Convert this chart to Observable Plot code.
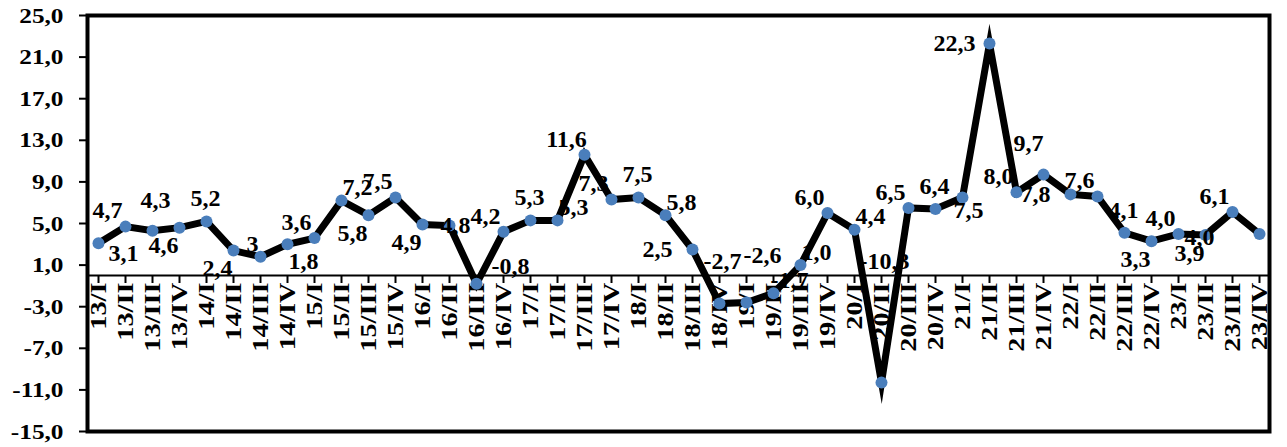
<!DOCTYPE html>
<html>
<head>
<meta charset="utf-8">
<script src="https://cdn.jsdelivr.net/npm/d3@7"></script>
<script src="https://cdn.jsdelivr.net/npm/@observablehq/plot@0.6"></script>
<style>
  html, body { margin: 0; padding: 0; background: #fff; }
  #chart svg { display: block; }
</style>
</head>
<body>
<div id="chart"></div>
<script>
const categories = [
  "13/I","13/II","13/III","13/IV",
  "14/I","14/II","14/III","14/IV",
  "15/I","15/II","15/III","15/IV",
  "16/I","16/II","16/III","16/IV",
  "17/I","17/II","17/III","17/IV",
  "18/I","18/II","18/III","18/IV",
  "19/I","19/II","19/III","19/IV",
  "20/I","20/II","20/III","20/IV",
  "21/I","21/II","21/III","21/IV",
  "22/I","22/II","22/III","22/IV",
  "23/I","23/II","23/III","23/IV"
];
const values = [
  3.1, 4.7, 4.3, 4.6,
  5.2, 2.4, 1.8, 3.0,
  3.6, 7.2, 5.8, 7.5,
  4.9, 4.8, -0.8, 4.2,
  5.3, 5.3, 11.6, 7.3,
  7.5, 5.8, 2.5, -2.7,
  -2.6, -1.7, 1.0, 6.0,
  4.4, -10.3, 6.5, 6.4,
  7.5, 22.3, 8.0, 9.7,
  7.8, 7.6, 4.1, 3.3,
  4.0, 3.9, 6.1, 4.0
];
const labels = [
  "3,1","4,7","4,3","4,6",
  "5,2","2,4","1,8","3",
  "3,6","7,2","5,8","7,5",
  "4,9","4,8","-0,8","4,2",
  "5,3","5,3","11,6","7,3",
  "7,5","5,8","2,5","-2,7",
  "-2,6","-1,7","1,0","6,0",
  "4,4","-10,3","6,5","6,4",
  "7,5","22,3","8,0","9,7",
  "7,8","7,6","4,1","3,3",
  "4,0","3,9","6,1","4,0"
];
// named label placement for each point (like Excel's label position setting)
const labelSide = [
  "r","tl","tt","bl",
  "t","bl","R","L",
  "tl","tr","bl","tl",
  "bl","c","trr","tl",
  "t","tr","tl","tl",
  "t","tr","L","base",
  "baseR","tr","tr","tl",
  "tr","base","tl","t",
  "br","L","tl","ttl",
  "L","tl","t","bl",
  "tl","bl","tl","LL"
];
const yTicks = [-15, -11, -7, -3, 1, 5, 9, 13, 17, 21, 25];

const data = categories.map((c, i) => ({cat: c, value: values[i], label: labels[i], side: labelSide[i]}));
const fmt = d => d.toFixed(1).replace(".", ",");
const font = "'Liberation Serif', 'Times New Roman', serif";

// pixel offsets for each named placement (style, not data)
const offsets = {
  t: [-1, -23], tt: [3, -30], ttl: [-15, -31], tl: [-18, -16], tr: [16, -13], trr: [34, -18],
  bl: [-16, 18], br: [6, 13], r: [25, 10], R: [43, 5], L: [-35, 0], LL: [-60, 3], c: [6, 0]
};
const labelMarks = Object.entries(offsets).map(([side, [dx, dy]]) =>
  Plot.text(data.filter(d => d.side === side), {
    x: "cat", y: "value", text: "label", dx, dy,
    fontSize: 24, fontWeight: "bold", fill: "black"
  })
);
// labels placed just above the zero line ("inside base")
labelMarks.push(Plot.text(data.filter(d => d.side === "base"), {
  x: "cat", y: () => 0, text: "label", dx: 3, dy: -14,
  fontSize: 24, fontWeight: "bold", fill: "black"
}));
labelMarks.push(Plot.text(data.filter(d => d.side === "baseR"), {
  x: "cat", y: () => 0, text: "label", dx: 16, dy: -20,
  fontSize: 24, fontWeight: "bold", fill: "black"
}));

const chart = Plot.plot({
  width: 1287,
  height: 447,
  marginLeft: 87,
  marginRight: 18,
  marginTop: 15,
  marginBottom: 16,
  style: {fontFamily: font, fontWeight: "bold", background: "#fff", color: "black"},
  x: {type: "point", domain: categories, padding: 0, axis: null},
  y: {domain: [-15, 25], axis: null},
  marks: [
    Plot.axisY(yTicks, {
      tickSize: 8, tickPadding: 16, tickFormat: fmt, fontSize: 22, fontWeight: "bold",
      strokeWidth: 2, label: null
    }),
    Plot.ruleY([0], {stroke: "black", strokeWidth: 2}),
    Plot.ruleX(categories, {x: d => d, y1: () => 0, y2: () => 0, insetTop: 8, stroke: "black", strokeWidth: 2}),
    Plot.text(categories, {
      x: d => d, y: () => 0, text: d => d, rotate: -90, textAnchor: "end", lineAnchor: "middle",
      dy: 7, fontSize: 24, fontWeight: "bold", fill: "black"
    }),
    Plot.frame({stroke: "black", strokeWidth: 4}),
    Plot.line(data, {x: "cat", y: "value", stroke: "black", strokeWidth: 7, strokeLinejoin: "miter", strokeMiterlimit: 20}),
    Plot.dot(data, {x: "cat", y: "value", r: 6, fill: "#4a7ebb", stroke: "none"}),
    ...labelMarks
  ]
});
// stretch glyphs like the reference (taller category labels, wider axis numbers)
const svg = d3.select(chart);
svg.selectAll("text").each(function () {
  const t = this.getAttribute("transform") || "";
  const txt = this.textContent;
  if (t.includes("rotate")) {
    this.setAttribute("transform", `${t} scale(1.18,1)`);
  } else if (yTicks.map(fmt).includes(txt) && this.getAttribute("text-anchor") === null) {
    // handled below via parent check
  }
});
svg.selectAll('g[aria-label="y-axis tick label"] text').each(function () {
  const t = this.getAttribute("transform") || "";
  this.setAttribute("transform", `${t} scale(1.15,1)`);
});
document.getElementById("chart").appendChild(chart);
</script>
</body>
</html>
